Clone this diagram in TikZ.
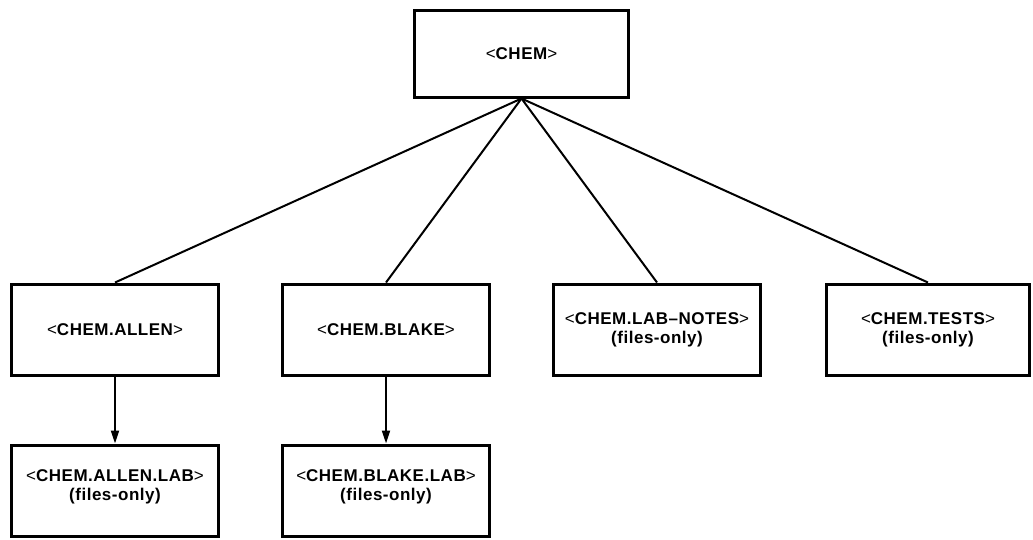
\documentclass[tikz,border=0pt]{standalone}
\usepackage{fontspec}
\setmainfont[LetterSpace=3]{Liberation Sans}
\usepackage{tikz}
\usetikzlibrary{arrows.meta}

\newcommand{\dopen}{{\mdseries<}}
\newcommand{\dclose}{{\mdseries>}}

\begin{document}
\begin{tikzpicture}[
  level distance=276pt,
  level 1/.style={sibling distance=271pt},
  level 2/.style={level distance=161pt,
    edge from parent/.style={draw,line width=2pt,-{Triangle[length=13pt,width=8pt]}}},
  every node/.style={rectangle, draw, line width=3pt, minimum width=207pt,
    minimum height=91pt, align=center, inner sep=2pt,
    font=\fontsize{17pt}{19pt}\selectfont\bfseries},
  edge from parent/.style={draw,line width=2pt,-},
  parent anchor=south, child anchor=north
]
\useasboundingbox (0,0) rectangle (1033pt,-539pt);
\node (chem) [minimum width=214pt, minimum height=87pt] at (521.5pt,-53.5pt) {\dopen CHEM\dclose}
  child { node (allen) {\dopen CHEM.ALLEN\dclose}
    child { node (allenlab) {\dopen CHEM.ALLEN.LAB\dclose\\(files-only)\\[-9pt]\mbox{}} }
  }
  child { node (blake) {\dopen CHEM.BLAKE\dclose}
    child { node (blakelab) {\dopen CHEM.BLAKE.LAB\dclose\\(files-only)\\[-9pt]\mbox{}} }
  }
  child { node (notes) {\dopen CHEM.LAB--NOTES\dclose\\(files-only)} }
  child { node (tests) [minimum width=203pt] {\dopen CHEM.TESTS\dclose\\(files-only)} };
\end{tikzpicture}
\end{document}
